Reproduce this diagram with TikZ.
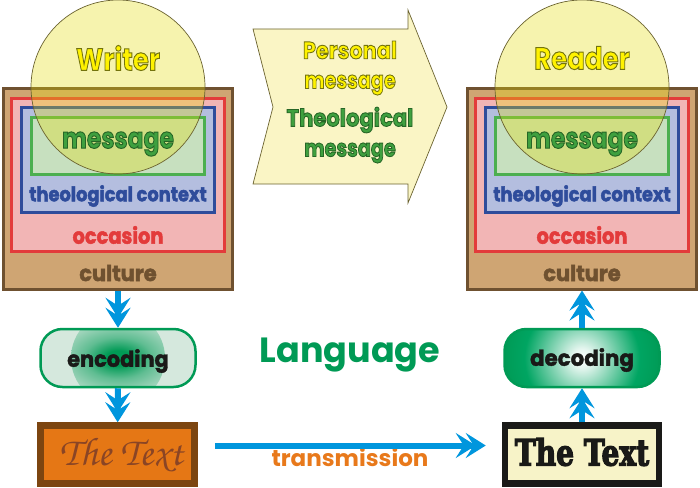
\documentclass[tikz,border=0pt]{standalone}
\usepackage{fontspec}
\usepackage{graphicx}
\usetikzlibrary{arrows.meta,positioning,shapes.geometric,shapes.misc}
\setmainfont{Poppins}
\newfontfamily\labelfont{Poppins}
\newfontfamily\slabfont{DejaVu Serif}
\newcommand{\pxfont}[1]{\fontsize{#1}{#1}\selectfont\labelfont\bfseries}
% stroked text, the outline colour is given as r g b
\newcommand{\outl}[3][0.7]{\special{pdf:code q 2 Tr #1 w #2 RG}#3\special{pdf:code Q}}
\newcommand{\squeeze}[2]{\scalebox{#1}[1]{#2}}
\definecolor{cultureFill}{HTML}{CFA573}
\definecolor{cultureLine}{HTML}{6F5130}
\definecolor{occFill}{HTML}{F2B5B5}
\definecolor{occLine}{HTML}{E33B3B}
\definecolor{theoFill}{HTML}{B4BEDF}
\definecolor{theoLine}{HTML}{2F4C9B}
\definecolor{msgFill}{HTML}{C7E0BF}
\definecolor{msgLine}{HTML}{4CAF50}
\definecolor{msgText}{HTML}{3FA03F}
\definecolor{sunFill}{HTML}{E3DA09}
\definecolor{sunLine}{HTML}{6B6330}
\definecolor{banner}{HTML}{FAF5C5}
\definecolor{bluearrow}{HTML}{0096DD}
\definecolor{codeGreen}{HTML}{009A55}
\definecolor{codeMid}{HTML}{00A562}
\definecolor{codeLight}{HTML}{D5E8DD}
\definecolor{textOrange}{HTML}{E57715}
\definecolor{textBrown}{HTML}{7C4510}
\definecolor{scriptBrown}{HTML}{8A4525}
\definecolor{paleText}{HTML}{F7F3C8}
\definecolor{nearBlack}{HTML}{1A1A18}
\definecolor{transOrange}{HTML}{E8791B}
\definecolor{brightYellow}{HTML}{FFF200}
\pgfdeclareradialshading{encshade}{\pgfpoint{0bp}{0bp}}{color(0bp)=(codeGreen); color(4bp)=(codeGreen); color(11bp)=(codeGreen!55!codeLight); color(25bp)=(codeLight); color(50bp)=(codeLight)}
\pgfdeclareradialshading{decshade}{\pgfpoint{0bp}{0bp}}{color(0bp)=(white); color(3bp)=(white!90!codeMid); color(18bp)=(codeMid); color(25bp)=(codeGreen); color(50bp)=(codeGreen)}
\begin{document}
\begin{tikzpicture}[x=1pt,y=-1pt]
    % Styles
    \tikzset{
        culturebox/.style={rectangle, draw=cultureLine, fill=cultureFill, line width=3pt, minimum width=229pt, minimum height=201pt},
        occasionbox/.style={rectangle, draw=occLine, fill=occFill, line width=3pt, minimum width=213pt, minimum height=153pt},
        theobox/.style={rectangle, draw=theoLine, fill=theoFill, line width=3pt, minimum width=193pt, minimum height=105pt},
        messagebox/.style={rectangle, draw=msgLine, fill=msgFill, line width=3pt, minimum width=173pt, minimum height=57pt},
        person/.style={circle, draw=sunLine, fill=sunFill, fill opacity=0.33, draw opacity=1, line width=0.7pt, minimum size=174pt, inner sep=0pt},
        codebox/.style={rectangle, rounded corners=22pt, draw=codeGreen, line width=2.5pt, minimum width=155pt, minimum height=58pt},
        textbox/.style={rectangle, line width=6.5pt, minimum width=154pt, minimum height=58pt},
        flow/.style={line width=6pt, draw=bluearrow, -{Stealth[length=20pt,width=25pt,inset=8pt,sep=-10pt]Stealth[length=20pt,width=25pt,inset=8pt]}}
    }
    \useasboundingbox (0,0) rectangle (700,487);

    % Writer side
    \node[culturebox] (cultureL) at (118,188.5) {};
    \node[occasionbox] (occasionL) at (117.5,174.5) {};
    \node[theobox] (theoL) at (117.5,159.5) {};
    \node[messagebox] (messageL) at (117.5,145.5) {};
    \node[person] (writer) at (118,87) {};
    \node (writerT) at (118,58) {\pxfont{31}\color{brightYellow}\squeeze{.84}{\outl[1]{0.45 0.45 0.05}{Writer}}};
    \node (messageTL) at (118,144) {\pxfont{29}\color{msgText}\squeeze{.81}{\outl[1]{0.15 0.4 0.15}{message}}};
    \node (theoTL) at (118,196) {\pxfont{20}\color{theoLine}\squeeze{.89}{\outl[.5]{0.18 0.3 0.61}{theological context}}};
    \node (occasionTL) at (118,235) {\pxfont{22}\color{occLine}\squeeze{.88}{\outl[.5]{0.89 0.23 0.23}{occasion}}};
    \node (cultureTL) at (118,273) {\pxfont{22}\color{cultureLine}\squeeze{.95}{\outl[.5]{0.44 0.32 0.19}{culture}}};

    % Reader side
    \node[culturebox] (cultureR) at (582,188.5) {};
    \node[occasionbox] (occasionR) at (581.5,174.5) {};
    \node[theobox] (theoR) at (581.5,159.5) {};
    \node[messagebox] (messageR) at (581.5,145.5) {};
    \node[person] (reader) at (582,87) {};
    \node (readerT) at (582,58) {\pxfont{31}\color{brightYellow}\squeeze{.84}{\outl[1]{0.45 0.45 0.05}{Reader}}};
    \node (messageTR) at (582,144) {\pxfont{29}\color{msgText}\squeeze{.81}{\outl[1]{0.15 0.4 0.15}{message}}};
    \node (theoTR) at (582,196) {\pxfont{20}\color{theoLine}\squeeze{.89}{\outl[.5]{0.18 0.3 0.61}{theological context}}};
    \node (occasionTR) at (582,235) {\pxfont{22}\color{occLine}\squeeze{.88}{\outl[.5]{0.89 0.23 0.23}{occasion}}};
    \node (cultureTR) at (582,273) {\pxfont{22}\color{cultureLine}\squeeze{.95}{\outl[.5]{0.44 0.32 0.19}{culture}}};

    % Banner
    \draw[draw=sunLine, fill=banner, line width=0.7pt] (253,29) -- (408,29) -- (408,10) -- (447,107) -- (408,203) -- (408,184) -- (253,184) -- (273,107) -- cycle;
    \node (personalT) at (350,50) {\pxfont{24}\color{brightYellow}\squeeze{.87}{\outl[.9]{0.45 0.45 0.05}{Personal}}};
    \node (personalM) at (350,85) {\pxfont{24}\color{brightYellow}\squeeze{.8}{\outl[.9]{0.45 0.45 0.05}{message}}};
    \node (theologicalT) at (350,120) {\pxfont{24}\color{msgText}\squeeze{.88}{\outl[.9]{0.15 0.4 0.15}{Theological}}};
    \node (theologicalM) at (350,153) {\pxfont{24}\color{msgText}\squeeze{.8}{\outl[.9]{0.15 0.4 0.15}{message}}};

    % Coding boxes
    \node[codebox, fill=codeLight, path picture={\shade[shading=encshade] (path picture bounding box.center) circle (47pt);}] (encoding) at (118,358) {};
    \node (encodingT) at (118,361) {\pxfont{22}\color{nearBlack}\squeeze{.95}{\outl[.4]{0.1 0.1 0.09}{encoding}}};
    \node[codebox, fill=codeGreen, path picture={\shade[shading=decshade] (path picture bounding box.center) circle (80pt);}] (decoding) at (582,358) {};
    \node (decodingT) at (582,360) {\pxfont{22}\color{nearBlack}\squeeze{.97}{\outl[.4]{0.1 0.1 0.09}{decoding}}};

    % The two texts
    \node[textbox, draw=textBrown, fill=textOrange] (textL) at (117.5,454.5) {};
    \node (textLT) at (121,455) {\fontsize{40}{40}\selectfont\usefont{T1}{pzc}{m}{it}\color{scriptBrown}The Text};
    \node[textbox, draw=nearBlack, fill=paleText] (textR) at (582,454.5) {};
    \node (textRT) at (582,452) {\fontsize{36}{36}\selectfont\slabfont\bfseries\color{nearBlack}\squeeze{.78}{\outl[1.4]{0.1 0.1 0.09}{The Text}}};

    % Big labels
    \node (language) at (350,355) {\fontsize{35}{35}\selectfont\labelfont\bfseries\color{codeGreen}Language};
    \node (transmission) at (350,457) {\pxfont{23}\color{transOrange}transmission};

    % Arrows
    \draw[flow] (cultureL) -- (encoding);
    \draw[flow] (encoding) -- (textL);
    \draw[flow] (textR) -- (decoding);
    \draw[flow] (decoding) -- (cultureR);
    \draw[flow, shorten <=17pt, shorten >=16pt] ([yshift=9pt]textL.east) -- ([yshift=9pt]textR.west);
\end{tikzpicture}
\end{document}
